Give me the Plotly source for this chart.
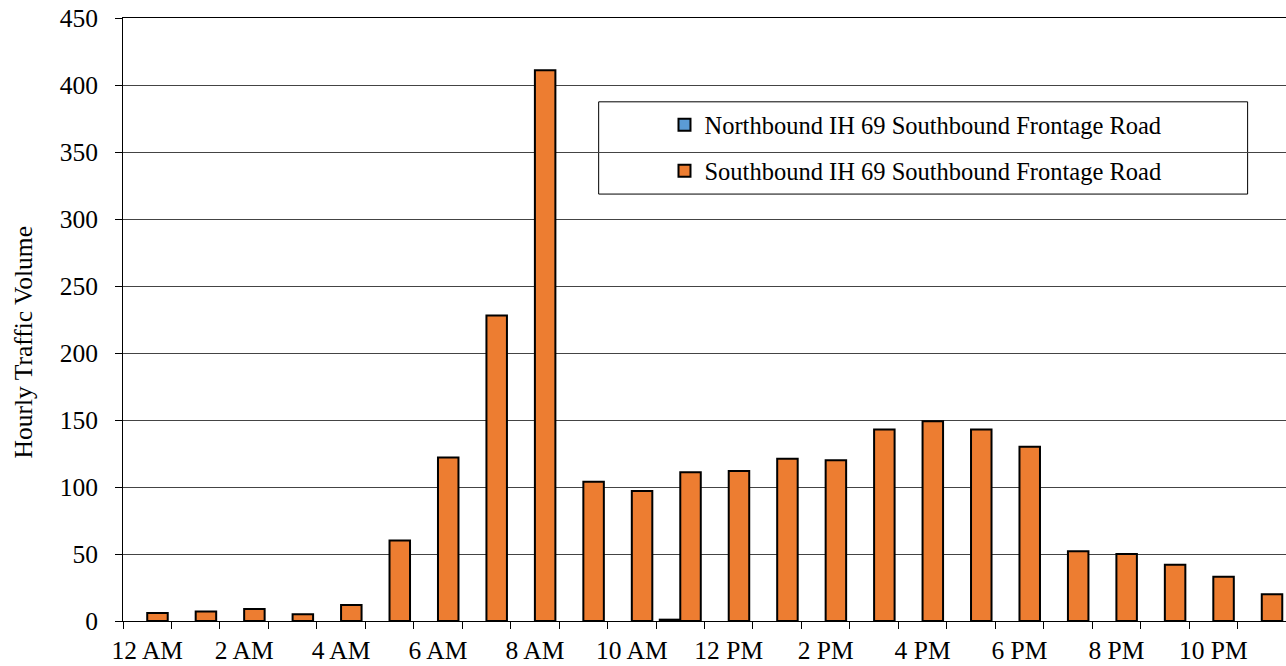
import plotly.graph_objects as go

# Hour-of-day categories and hourly counts for each direction
hours = ["12 AM", "1 AM", "2 AM", "3 AM", "4 AM", "5 AM", "6 AM", "7 AM",
         "8 AM", "9 AM", "10 AM", "11 AM", "12 PM", "1 PM", "2 PM", "3 PM",
         "4 PM", "5 PM", "6 PM", "7 PM", "8 PM", "9 PM", "10 PM", "11 PM"]
northbound = [0, 0, 0, 0, 0, 0, 0, 0, 0, 0, 0, 1,
              0, 0, 0, 0, 0, 0, 0, 0, 0, 0, 0, 0]
southbound = [6, 7, 9, 5, 12, 60, 122, 228, 411, 104, 97, 111,
              112, 121, 120, 143, 149, 143, 130, 52, 50, 42, 33, 20]
y_ticks = [0, 50, 100, 150, 200, 250, 300, 350, 400, 450]

FONT = "Liberation Serif, Times New Roman, serif"
positions = list(range(len(hours)))
label_pos = positions[::2]
label_text = hours[::2]
boundaries = [p - 0.5 for p in positions] + [positions[-1] + 0.5]


def skip_empty(values):
    # hours with no vehicles are left blank instead of a flat outline
    return [v if v else None for v in values]


fig = go.Figure()
fig.add_trace(go.Bar(
    x=positions, y=skip_empty(northbound),
    name="Northbound IH 69 Southbound Frontage Road",
    marker=dict(color="#5B9BD5", line=dict(color="black", width=2)),
    legendgroup="nb",
))
fig.add_trace(go.Bar(
    x=positions, y=skip_empty(southbound),
    name="Southbound IH 69 Southbound Frontage Road",
    marker=dict(color="#ED7D31", line=dict(color="black", width=2)),
    legendgroup="sb",
))

fig.update_layout(
    width=1286, height=666,
    margin=dict(l=123, r=0, t=18, b=45),
    paper_bgcolor="white", plot_bgcolor="white",
    barmode="group", bargap=0.154, bargroupgap=0,
    font=dict(family=FONT, size=25, color="black"),
    showlegend=True,
    legend=dict(
        x=0.4656, y=0.86, xanchor="left", yanchor="top",
        bgcolor="rgba(0,0,0,0)", borderwidth=0,
        font=dict(family=FONT, size=24.5, color="black"),
        tracegroupgap=11, itemwidth=30,
    ),
    xaxis=dict(
        range=[-0.5, len(hours) - 0.5],
        tickmode="array", tickvals=label_pos, ticktext=label_text,
        ticks="", showgrid=False, zeroline=False,
        showline=True, linecolor="black", linewidth=1, mirror=True,
        tickfont=dict(family=FONT, size=25.5), ticklabelstandoff=6,
        minor=dict(tickmode="array", tickvals=boundaries, ticks="outside",
                   ticklen=7, tickcolor="black", tickwidth=1, showgrid=False),
    ),
    yaxis=dict(
        range=[0, 450], tickmode="array", tickvals=y_ticks,
        ticks="outside", ticklen=7, tickcolor="black",
        showline=True, linecolor="black", linewidth=1,
        showgrid=True, gridcolor="#444444", gridwidth=1, zeroline=False,
        tickfont=dict(family=FONT, size=25.5), ticklabelstandoff=12,
    ),
    shapes=[dict(type="rect", xref="paper", yref="paper",
                 x0=0.409, x1=0.967, y0=0.708, y1=0.861,
                 line=dict(color="black", width=1), fillcolor="white",
                 layer="below")],
    annotations=[dict(text="Hourly Traffic Volume", xref="paper", yref="paper",
                      x=-0.086, y=0.462, xanchor="center", yanchor="middle",
                      textangle=-90, showarrow=False,
                      font=dict(family=FONT, size=25.5, color="black"))],
)

fig.write_html("out.html")
